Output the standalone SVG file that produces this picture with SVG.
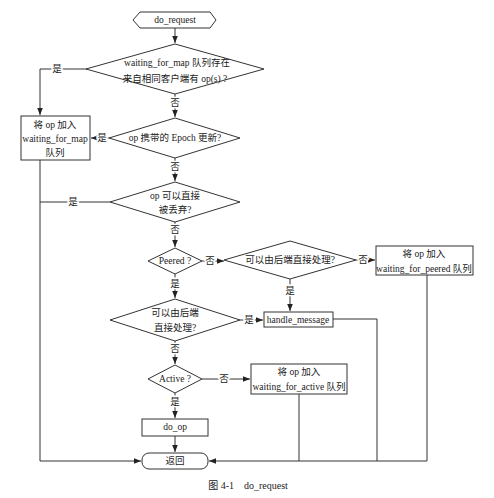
<svg xmlns="http://www.w3.org/2000/svg" width="494" height="498" viewBox="0 0 494 498">
<style>
text{font-family:"Liberation Serif","Noto Sans CJK SC",serif;font-size:9.5px;fill:#222;text-anchor:middle;dominant-baseline:central}
.shape{fill:#fff;stroke:#333;stroke-width:1}
.c{fill:none;stroke:#333;stroke-width:1}
.lbl{stroke:#fff;stroke-width:3px;paint-order:stroke}
</style>
<defs>
<marker id="ah" viewBox="0 0 10 10" refX="10" refY="5" markerWidth="7" markerHeight="7" markerUnits="userSpaceOnUse" orient="auto">
<path d="M0,1 L10,5 L0,9 Z" fill="#222"/>
</marker>
</defs>
<rect width="494" height="498" fill="#fff"/>
<g id="connectors">
<path class="c" d="M175,28 V43" marker-end="url(#ah)"/>
<path class="c" d="M87,69 H40 V115" marker-end="url(#ah)"/>
<path class="c" d="M175,94 V117" marker-end="url(#ah)"/>
<path class="c" d="M109,138 H91" marker-end="url(#ah)"/>
<path class="c" d="M175,158 V181" marker-end="url(#ah)"/>
<path class="c" d="M110,202 H40"/>
<path class="c" d="M40,160 V461 H141" marker-end="url(#ah)"/>
<path class="c" d="M175,222 V247" marker-end="url(#ah)"/>
<path class="c" d="M202,261 H224" marker-end="url(#ah)"/>
<path class="c" d="M356,260 H375" marker-end="url(#ah)"/>
<path class="c" d="M290,279 V311" marker-end="url(#ah)"/>
<path class="c" d="M175,274 V298" marker-end="url(#ah)"/>
<path class="c" d="M240,320 H263" marker-end="url(#ah)"/>
<path class="c" d="M333,319 H377 V461"/>
<path class="c" d="M175,341 V364" marker-end="url(#ah)"/>
<path class="c" d="M202,379 H250" marker-end="url(#ah)"/>
<path class="c" d="M299,394 V461"/>
<path class="c" d="M175,393 V418" marker-end="url(#ah)"/>
<path class="c" d="M175,436 V452" marker-end="url(#ah)"/>
<path class="c" d="M427,275 V461 H209" marker-end="url(#ah)"/>
<text class="lbl" x="57" y="69">是</text>
<text class="lbl" x="175" y="103">否</text>
<text class="lbl" x="102" y="138">是</text>
<text class="lbl" x="175" y="167">否</text>
<text class="lbl" x="73" y="202">是</text>
<text class="lbl" x="175" y="230">否</text>
<text class="lbl" x="210" y="261">否</text>
<text class="lbl" x="363" y="260">否</text>
<text class="lbl" x="290" y="291">是</text>
<text class="lbl" x="175" y="284">是</text>
<text class="lbl" x="249" y="320">是</text>
<text class="lbl" x="175" y="349">否</text>
<text class="lbl" x="224" y="379">否</text>
<text class="lbl" x="175" y="402">是</text>
</g>
<g id="start">
<polygon class="shape" points="133,20 140,12 210,12 216,20 210,28 140,28"/>
<text x="175" y="20">do_request</text>
</g>
<g id="d1">
<polygon class="shape" points="175,44 264,69 175,94 86,69"/>
<text x="177" y="63">waiting_for_map 队列存在</text>
<text x="175" y="79">来自相同客户端有 op(s) ?</text>
</g>
<g id="box_map">
<rect class="shape" x="21" y="116" width="69" height="44"/>
<text x="55" y="125">将 op 加入</text>
<text x="55" y="139">waiting_for_map</text>
<text x="55" y="153">队列</text>
</g>
<g id="d2">
<polygon class="shape" points="175,118 240,138 175,158 109,138"/>
<text x="175" y="138">op 携带的 Epoch 更新?</text>
</g>
<g id="d3">
<polygon class="shape" points="175,182 240,202 175,222 110,202"/>
<text x="175" y="196">op 可以直接</text>
<text x="175" y="210">被丢弃?</text>
</g>
<g id="peered">
<polygon class="shape" points="175,248 202,261 175,274 148,261"/>
<text x="175" y="261">Peered ?</text>
</g>
<g id="d4">
<polygon class="shape" points="290,241 356,260 290,279 224,260"/>
<text x="290" y="260">可以由后端直接处理?</text>
</g>
<g id="box_peered">
<rect class="shape" x="376" y="246" width="97" height="29"/>
<text x="424" y="254">将 op 加入</text>
<text x="424" y="269">waiting_for_peered 队列</text>
</g>
<g id="d5">
<polygon class="shape" points="175,299 240,320 175,341 110,320"/>
<text x="175" y="313">可以由后端</text>
<text x="175" y="328">直接处理?</text>
</g>
<g id="handle_message">
<rect class="shape" x="264" y="312" width="69" height="15"/>
<text x="298" y="320">handle_message</text>
</g>
<g id="active">
<polygon class="shape" points="175,365 202,379 175,393 148,379"/>
<text x="175" y="379">Active ?</text>
</g>
<g id="box_active">
<rect class="shape" x="251" y="364" width="96" height="30"/>
<text x="299" y="372">将 op 加入</text>
<text x="299" y="387">waiting_for_active 队列</text>
</g>
<g id="do_op">
<rect class="shape" x="142" y="419" width="66" height="17"/>
<text x="175" y="427">do_op</text>
</g>
<g id="return">
<rect class="shape" x="142" y="453" width="66" height="16" rx="7"/>
<text x="175" y="461">返回</text>
</g>
<text x="248" y="485" style="font-size:10px" xml:space="preserve">图 4-1    do_request</text>
</svg>
